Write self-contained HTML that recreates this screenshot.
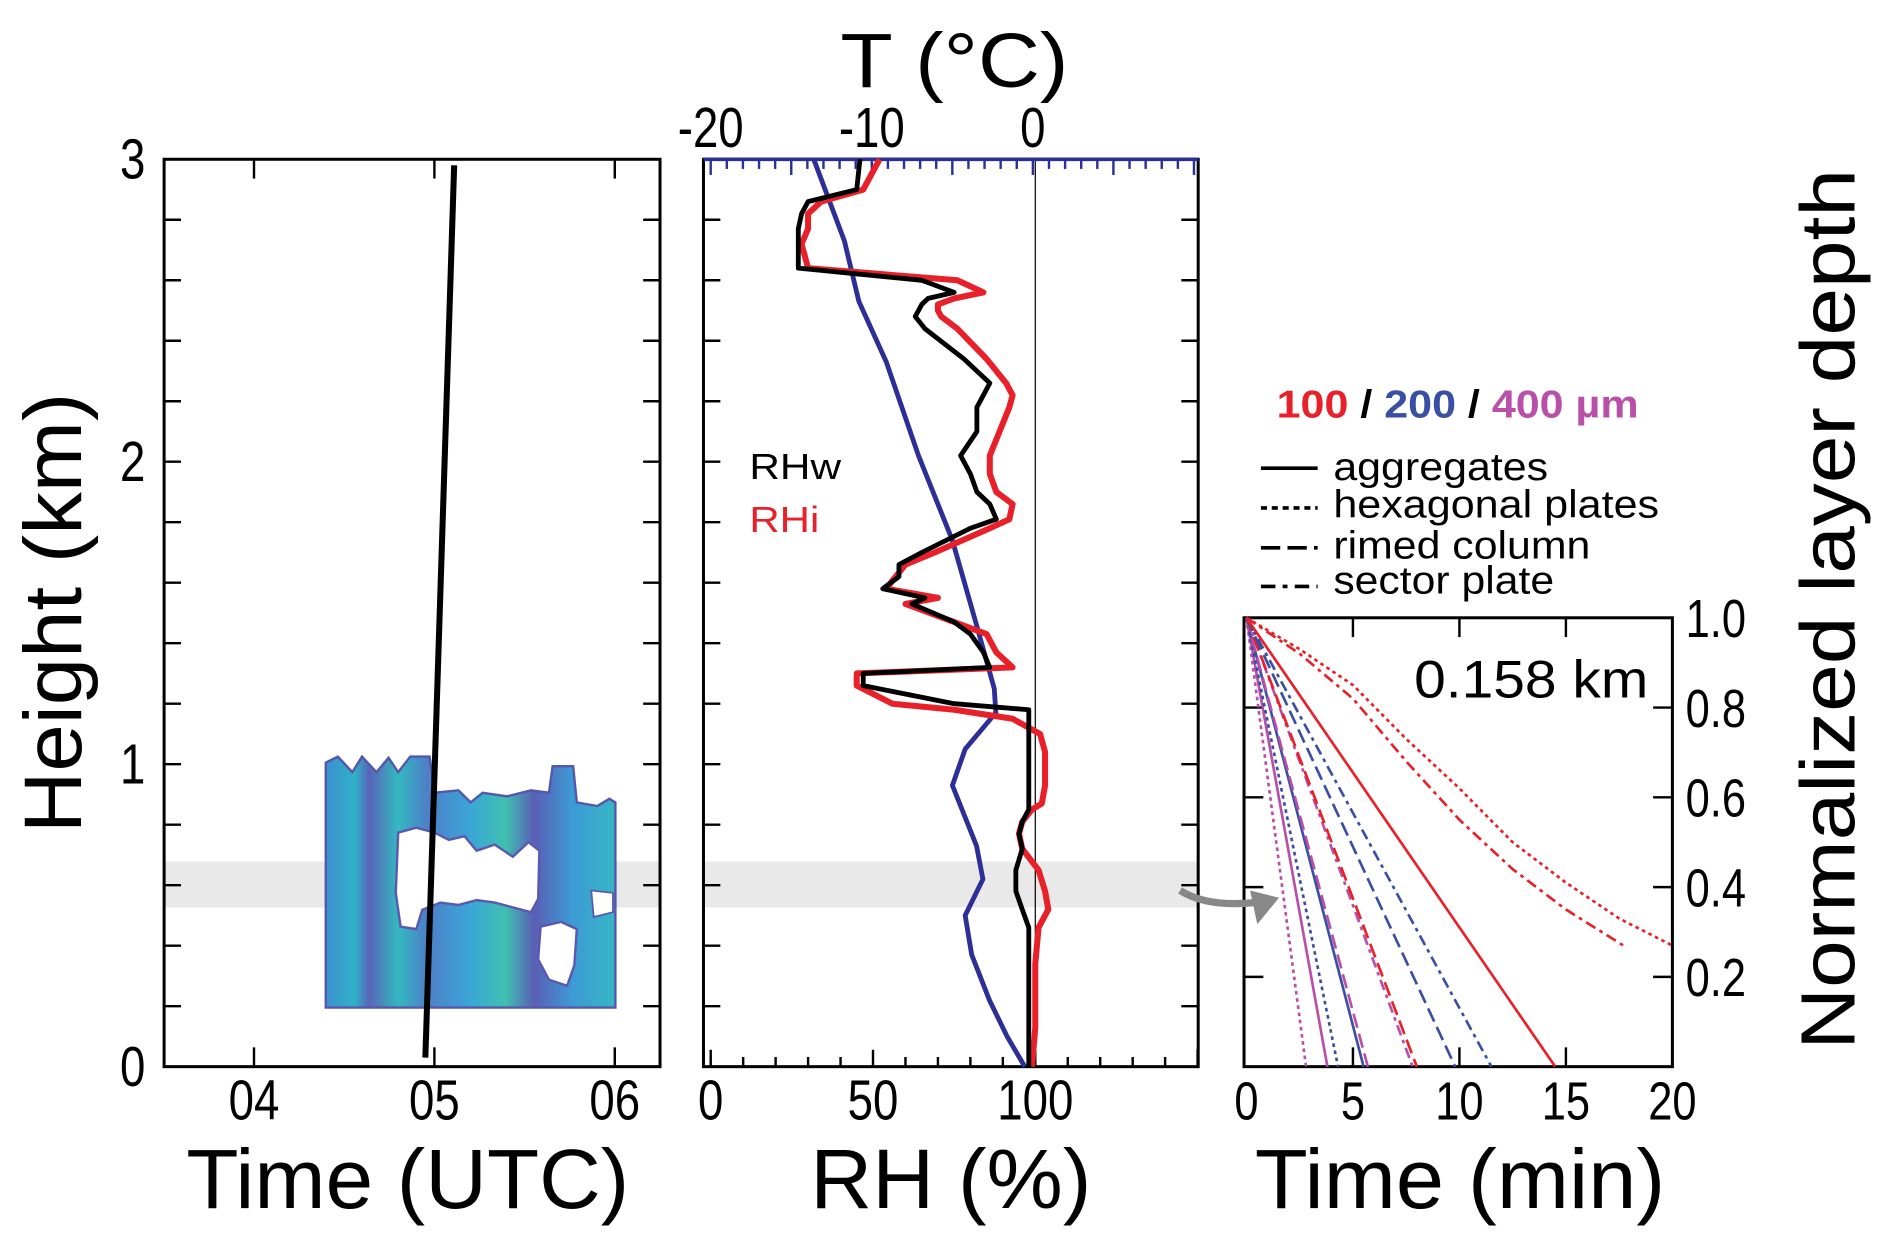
<!DOCTYPE html>
<html><head><meta charset="utf-8"><style>
html,body{margin:0;padding:0;background:#fff;}
svg{display:block;font-family:"Liberation Sans",Arial,sans-serif;}
</style></head><body>
<svg id="fig" width="1892" height="1238" viewBox="0 0 1568 1026" preserveAspectRatio="none" xmlns="http://www.w3.org/2000/svg">
<defs>
<linearGradient id="rg" x1="0" y1="0" x2="1" y2="0">
<stop offset="0" stop-color="#3d8fd0"/><stop offset="0.1" stop-color="#2fb2c8"/><stop offset="0.15" stop-color="#5a64b8"/><stop offset="0.25" stop-color="#33b9c0"/><stop offset="0.35" stop-color="#4e7fc8"/><stop offset="0.5" stop-color="#3aa6d6"/><stop offset="0.62" stop-color="#3fc0b0"/><stop offset="0.72" stop-color="#5a5eb5"/><stop offset="0.85" stop-color="#3d9ad4"/><stop offset="1" stop-color="#36b6c4"/>
</linearGradient>
</defs>
<g id="bands">
<rect x="136" y="714" width="411" height="38" fill="#e9e9e9"/>
<rect x="583" y="714" width="410" height="38" fill="#e9e9e9"/>
</g>
<g id="radar">
<polygon points="270,835 270,632 280,627 292,640 300,627 312,640 322,628 330,640 340,627 356,627 360,657 380,655 390,665 400,657 420,660 440,655 455,657 458,635 475,635 478,665 495,668 505,662 510,665 510,835" fill="url(#rg)" stroke="#5557ad" stroke-width="2"/>
<path d="M330,690 L345,686 L360,690 L372,696 L385,693 L395,705 L410,700 L425,710 L438,698 L447,705 L446,745 L440,756 L425,752 L410,748 L395,746 L380,750 L365,748 L350,754 L345,770 L332,768 L328,740 Z" fill="#fff" stroke="#5a58b0" stroke-width="2"/>
<path d="M448,768 L465,764 L478,770 L476,800 L470,817 L455,812 L446,795 Z" fill="#fff" stroke="#5a58b0" stroke-width="2"/>
<path d="M490,738 L508,740 L508,756 L492,760 Z" fill="#fff" stroke="#5a58b0" stroke-width="1.5"/>
</g>
<g id="p1"></g>
<g id="p2"></g>
<g id="p3"></g>
<path d="M978,738 Q1000,752 1040,748" fill="none" stroke="#888" stroke-width="6"/>
<polygon points="1036,738 1060,744 1042,766" fill="#888"/>
<text x="67" y="508" font-size="68" text-anchor="middle" textLength="365" lengthAdjust="spacingAndGlyphs" transform="rotate(-90 67 508)">Height (km)</text>
<text x="338" y="1001" font-size="70" text-anchor="middle" textLength="367" lengthAdjust="spacingAndGlyphs">Time (UTC)</text>
<text x="788" y="1001" font-size="70" text-anchor="middle" textLength="233" lengthAdjust="spacingAndGlyphs">RH (%)</text>
<text x="791" y="72" font-size="64" text-anchor="middle" textLength="189" lengthAdjust="spacingAndGlyphs">T (°C)</text>
<text x="1210" y="1001" font-size="70" text-anchor="middle" textLength="340" lengthAdjust="spacingAndGlyphs">Time (min)</text>
<text x="1537" y="505" font-size="64" text-anchor="middle" textLength="730" lengthAdjust="spacingAndGlyphs" transform="rotate(-90 1537 505)">Normalized layer depth</text>
<text x="621" y="397" font-size="30" textLength="76" lengthAdjust="spacingAndGlyphs">RHw</text>
<text x="621" y="441" font-size="30" fill="#e8202a" textLength="58" lengthAdjust="spacingAndGlyphs">RHi</text>
<text x="1058" y="346" font-size="32" font-weight="bold" textLength="300" lengthAdjust="spacingAndGlyphs"><tspan fill="#e8202a">100</tspan> / <tspan fill="#3a4fa3">200</tspan> / <tspan fill="#b84fa8">400 µm</tspan></text>
<g>
<line x1="1045" y1="388" x2="1092" y2="388" stroke="#000" stroke-width="3"/>
<text x="1105" y="398" font-size="32" textLength="178" lengthAdjust="spacingAndGlyphs">aggregates</text>
<line x1="1045" y1="421" x2="1092" y2="421" stroke="#000" stroke-width="3" stroke-dasharray="5,4"/>
<text x="1105" y="429" font-size="32" textLength="270" lengthAdjust="spacingAndGlyphs">hexagonal plates</text>
<line x1="1045" y1="454" x2="1092" y2="454" stroke="#000" stroke-width="3" stroke-dasharray="16,6"/>
<text x="1105" y="463" font-size="32" textLength="213" lengthAdjust="spacingAndGlyphs">rimed column</text>
<line x1="1045" y1="486" x2="1092" y2="486" stroke="#000" stroke-width="3" stroke-dasharray="12,6,4,6"/>
<text x="1105" y="492" font-size="32" textLength="183" lengthAdjust="spacingAndGlyphs">sector plate</text>
</g>
<text x="1172" y="578" font-size="44" textLength="194" lengthAdjust="spacingAndGlyphs">0.158 km</text>
</svg>
<script>
// Panel 2 data (height km)
const rhHeights=[0,0.13,0.34,0.46,0.52,0.58,0.65,0.72,0.77,0.81,0.85,0.87,0.93,1.04,1.1,1.15,1.18,1.2,1.26,1.3,1.32,1.37,1.43,1.47,1.53,1.55,1.58,1.62,1.66,1.7,1.78,1.81,1.86,1.9,1.96,2.02,2.1,2.18,2.22,2.26,2.34,2.44,2.48,2.5,2.52,2.54,2.56,2.6,2.64,2.72,2.77,2.82,2.86,2.9,3.0];
const rhiValues=[99,100,100,101,104,103,101,96,95,96,99,102,103,103,101.5,93,75,56,45,45,93,88,85,75,60,70,54,57,60,69,86,92,93,88,86,86,89,92,93,91,85,76,71,70,70,75,84,76,30,28,30,30,34,47,52];
const rhwValues=[98,98,98,98,96,94,94,96,95,96,98,98,98,98,98,98,98,75,47,47,86,84,80,75,62,66,53,58,58,65,80,88,86,82,80,77,82,82,84,86,78,66,63,64,65,67,75,65,27,27,27,28,30,45,46];
const tHeights=[0,0.1,0.22,0.37,0.5,0.62,0.73,0.93,1.05,1.17,1.25,1.46,1.74,2.02,2.33,2.53,2.73,3.0];
const tValues=[-0.5,-1.6,-2.7,-3.8,-4.2,-3.1,-3.5,-5,-4.2,-2.3,-2.4,-3.5,-5,-7.1,-9.1,-10.8,-11.7,-13.6];
// Panel 1 balloon track
const trackTimes=[4.95,5.11];
const trackHeights=[0.03,2.98];
// Panel 3 fall-time curves
const curveNames=['hex-400','agg-400','hex-200','agg-200','rimed-400','sector-400','rimed-100','rimed-200','sector-200','agg-100'];
const curveEndTimes=[2.8,3.8,4.3,5.5,5.7,7.8,8.0,9.8,11.5,14.5];
const curveColors=['#b84fa8','#b84fa8','#3a4fa3','#3a4fa3','#b84fa8','#b84fa8','#e8202a','#3a4fa3','#3a4fa3','#e8202a'];
const curveStyles=['dot','solid','dot','solid','dash','dashdot','dash','dash','dashdot','solid'];
const hex100Times=[0,2.5,5,7.5,10,12.5,15,17.5,20];
const hex100Depth=[1,0.93,0.85,0.73,0.62,0.5,0.41,0.33,0.27];
const sec100Times=[0,2.5,5,7.5,10,12.5,15,17.7];
const sec100Depth=[1,0.92,0.82,0.68,0.55,0.44,0.35,0.27];
const hTicks=['0','1','2','3'];
const utcTicks=['04','05','06'];
const rhTicks=['0','50','100'];
const tTicks=['-20','-10','0'];
const minTicks=['0','5','10','15','20'];
const depthTicks=['0.2','0.4','0.6','0.8','1.0'];

const NS='http://www.w3.org/2000/svg';
function mk(p,tag,a){const e=document.createElementNS(NS,tag);for(const k in a)e.setAttribute(k,a[k]);p.appendChild(e);return e;}
const yH=h=>884-250.67*h;
const xUTC=t=>360+149.5*(t-5);
const xRH=r=>589+2.69*r;
const xT=t=>856+13.35*t;
const xM=m=>1033+17.65*m;
const yD=d=>884-372*d;
const dash={solid:'',dot:'3,3',dash:'12,5',dashdot:'9,4,3,4'};

const p1=document.getElementById('p1'),p2=document.getElementById('p2'),p3=document.getElementById('p3');
function frame(g,x,y,w,h,name){const r=mk(g,'rect',{x:x,y:y,width:w,height:h,fill:'none',stroke:'#000','stroke-width':2.5});

}
function tick(g,x1,y1,x2,y2,c,w){const l=mk(g,'line',{x1:x1,y1:y1,x2:x2,y2:y2,stroke:c||'#000','stroke-width':w||2});

}
function label(g,x,y,s,t,anchor,fill){const e=mk(g,'text',{x:x,y:y,'font-size':s,'text-anchor':anchor||'middle',fill:fill||'#000',transform:'translate('+x+' '+y+') scale(0.9 1.12) translate('+(-x)+' '+(-y)+')'});e.textContent=t;

}
function poly(g,pts,c,w,d,name){const e=mk(g,'polyline',{points:pts.map(p=>p[0].toFixed(1)+','+p[1].toFixed(1)).join(' '),fill:'none',stroke:c,'stroke-width':w,'stroke-dasharray':d||'','stroke-linejoin':'round'});

}

// Panel 1
frame(p1,136,132,411,752,'panel1-frame');
for(let i=0;i<=15;i++){const y=yH(i*0.2);tick(p1,136,y,150,y);tick(p1,533,y,547,y);}
hTicks.forEach(t=>label(p1,110,yH(+t)+16,42,t));
utcTicks.forEach(t=>{const x=xUTC(+t);tick(p1,x,884,x,868);tick(p1,x,132,x,148);label(p1,x,928,42,t);});
poly(p1,trackTimes.map((t,i)=>[xUTC(t),yH(trackHeights[i])]),'#000',5,'','balloon-track');

// Panel 2
frame(p2,583,132,410,752,'panel2-frame');
mk(p2,'line',{x1:xRH(100),y1:132,x2:xRH(100),y2:884,stroke:'#000','stroke-width':1});
for(let i=0;i<=15;i++){const y=yH(i*0.2);tick(p2,583,y,597,y);tick(p2,979,y,993,y);}
for(let r=0;r<=150;r+=10){const x=xRH(r);const L=(r%50===0)?14:8;tick(p2,x,884,x,884-L);}
rhTicks.forEach(t=>label(p2,xRH(+t),928,42,t));
mk(p2,'line',{x1:583,y1:132,x2:993,y2:132,stroke:'#2b2f96','stroke-width':3});
for(let t=-20;t<=10;t+=1){const x=xT(t);if(x<584||x>993)continue;const L=(t%5===0)?13:8;tick(p2,x,132,x,132+L,'#2b2f96',2);}
tTicks.forEach(t=>label(p2,xT(+t),122,42,t));
poly(p2,tHeights.map((h,i)=>[xT(tValues[i]),yH(h)]),'#2b2f96',4,'','temperature-profile');
poly(p2,rhHeights.map((h,i)=>[xRH(rhiValues[i]),yH(h)]),'#e8202a',5,'','rhi-profile');
poly(p2,rhHeights.map((h,i)=>[xRH(rhwValues[i]),yH(h)]),'#000',4,'','rhw-profile');

// Panel 3
frame(p3,1031,512,355,372,'panel3-frame');
minTicks.forEach(t=>{const x=xM(+t);if(+t>0&&+t<20){tick(p3,x,884,x,868);tick(p3,x,512,x,528);}label(p3,x,928,40,t);});
depthTicks.forEach(t=>{const y=yD(+t);if(+t<1){tick(p3,1031,y,1047,y);tick(p3,1370,y,1386,y);}label(p3,1397,y+16,40,t,'start');});
curveNames.forEach((n,i)=>poly(p3,[[xM(0),yD(1)],[xM(curveEndTimes[i]),yD(0)]],curveColors[i],2.2,dash[curveStyles[i]],'curve-'+n));
poly(p3,hex100Times.map((t,i)=>[xM(t),yD(hex100Depth[i])]),'#e8202a',2.2,dash.dot,'curve-hex-100');
poly(p3,sec100Times.map((t,i)=>[xM(t),yD(sec100Depth[i])]),'#e8202a',2.2,dash.dashdot,'curve-sector-100');
</script>
</body></html>
